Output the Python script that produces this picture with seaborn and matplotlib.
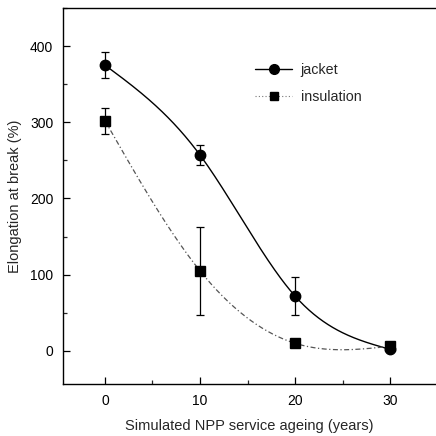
import numpy as np
import pandas as pd
import matplotlib
matplotlib.use("Agg")
import matplotlib.pyplot as plt
import seaborn as sns
from matplotlib.ticker import MultipleLocator
from matplotlib.lines import Line2D

# ---- data ----
years = [0, 10, 20, 30]
jacket = [375, 257, 72, 2]
jacket_err = [17, 13, 25, 0]
insulation = [302, 105, 10, 6]
insulation_err = [17, 58, 0, 0]
series_names = ["jacket", "insulation"]
x_label = "Simulated NPP service ageing (years)"
y_label = "Elongation at break (%)"
x_ticks = [0, 10, 20, 30]
y_ticks = [0, 100, 200, 300, 400]


def natural_spline(x, y):
    """Smooth connecting curve (natural cubic spline through the data points)."""
    x = np.asarray(x, float)
    y = np.asarray(y, float)
    n = len(x)
    h = np.diff(x)
    A = np.zeros((n, n))
    b = np.zeros(n)
    A[0, 0] = A[-1, -1] = 1.0
    for i in range(1, n - 1):
        A[i, i - 1] = h[i - 1]
        A[i, i] = 2 * (h[i - 1] + h[i])
        A[i, i + 1] = h[i]
        b[i] = 6 * ((y[i + 1] - y[i]) / h[i] - (y[i] - y[i - 1]) / h[i - 1])
    M = np.linalg.solve(A, b)

    def f(t):
        t = np.asarray(t, float)
        i = np.clip(np.searchsorted(x, t) - 1, 0, n - 2)
        hi = h[i]
        a = (x[i + 1] - t) / hi
        bb = (t - x[i]) / hi
        return (a * y[i] + bb * y[i + 1]
                + ((a ** 3 - a) * M[i] + (bb ** 3 - bb) * M[i + 1]) * hi ** 2 / 6)
    return f


sns.set_theme(style="ticks")
plt.rcParams["font.family"] = ["Liberation Sans", "DejaVu Sans"]

fig = plt.figure(figsize=(4.36, 4.36), dpi=100)
ax = fig.add_axes([63 / 436, 52 / 436, 373 / 436, 376 / 436])

xs = np.linspace(0, 30, 300)
fj = natural_spline(years, jacket)
fi = natural_spline(years, insulation)
curves = pd.DataFrame({"x": np.concatenate([xs, xs]),
                       "y": np.concatenate([fj(xs), fi(xs)]),
                       "s": ["jacket"] * len(xs) + ["insulation"] * len(xs)})

sns.lineplot(data=curves[curves.s == "jacket"], x="x", y="y", ax=ax,
             color="black", lw=1.0, legend=False)
sns.lineplot(data=curves[curves.s == "insulation"], x="x", y="y", ax=ax,
             color="#555555", lw=0.9, linestyle=(0, (4, 2, 1, 2)), legend=False)

ax.errorbar(years, jacket, yerr=jacket_err, fmt="o", color="black", ms=7.5,
            elinewidth=0.9, capsize=3, capthick=0.9, zorder=4)
ax.errorbar(years, insulation, yerr=insulation_err, fmt="s", color="black", ms=6.5,
            elinewidth=0.9, capsize=3, capthick=0.9, zorder=4)

ax.set_xlim(-4.42, 34.84)
ax.set_ylim(-43.5, 450)
ax.set_xticks(x_ticks)
ax.set_yticks(y_ticks)
ax.xaxis.set_minor_locator(MultipleLocator(5))
ax.yaxis.set_minor_locator(MultipleLocator(50))
ax.tick_params(which="major", direction="in", length=5, width=0.9,
               colors="black", pad=7)
ax.tick_params(which="minor", direction="in", length=3, width=0.9)
ax.tick_params(axis="x", pad=7)
for lab in ax.get_xticklabels() + ax.get_yticklabels():
    lab.set_family(["Liberation Sans Narrow", "Liberation Sans", "DejaVu Sans"])
    lab.set_fontsize(10)
ax.set_xlabel(x_label, fontsize=10.5, labelpad=8)
ax.set_ylabel(y_label, fontsize=10.5, labelpad=6)
for side in ["left", "bottom", "top"]:
    ax.spines[side].set_linewidth(1.0)
    ax.spines[side].set_color("black")
ax.spines["right"].set_visible(False)

handles = [Line2D([], [], color="black", lw=1.0, marker="o", ms=7),
           Line2D([], [], color="#777777", lw=0.8, linestyle=(0, (1, 2)), marker="s", ms=6,
                  mfc="black", mec="black")]
ax.legend(handles, series_names, frameon=False, fontsize=10.3,
          loc="upper left", bbox_to_anchor=((255 - 63) / 373, 0.855),
          borderaxespad=0, borderpad=0, handlelength=2.6,
          handletextpad=0.6, labelspacing=0.95)

fig.savefig("out.png", dpi=100)
